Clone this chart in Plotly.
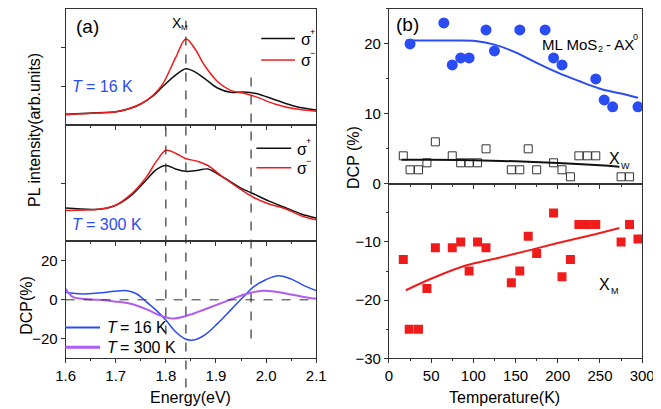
import plotly.graph_objects as go

W, H = 661, 409

# ---------------- Panel (a) data ----------------
# T = 16 K PL spectra
e16 = [1.60, 1.665, 1.698, 1.723, 1.749, 1.775, 1.794, 1.82, 1.84, 1.858, 1.877, 1.903, 1.929, 1.954, 1.98, 2.019, 2.057, 2.10]
pl16_sp = [0.27, 0.31, 0.33, 0.40, 0.53, 0.75, 0.99, 1.29, 1.45, 1.37, 1.20, 0.95, 0.84, 0.85, 0.81, 0.64, 0.48, 0.38]
pl16_sm = [0.26, 0.30, 0.33, 0.40, 0.53, 0.77, 1.06, 1.75, 2.22, 1.97, 1.54, 1.12, 0.89, 0.82, 0.72, 0.53, 0.41, 0.35]

# T = 300 K PL spectra
e300 = [1.60, 1.6655, 1.6976, 1.7297, 1.7618, 1.781, 1.8003, 1.8195, 1.8388, 1.8645, 1.8837, 1.9158, 1.9479, 1.9736, 2.0057, 2.0378, 2.070, 2.10]
pl300_sp = [0.57, 0.55, 0.61, 0.78, 1.06, 1.23, 1.30, 1.24, 1.20, 1.22, 1.24, 1.09, 0.92, 0.82, 0.69, 0.58, 0.47, 0.40]
pl300_sm = [0.53, 0.55, 0.61, 0.80, 1.11, 1.37, 1.56, 1.51, 1.42, 1.37, 1.30, 1.09, 0.90, 0.76, 0.64, 0.56, 0.44, 0.37]

# DCP spectra
e_dcp16 = [1.6, 1.6334, 1.6655, 1.6976, 1.7232, 1.7425, 1.7618, 1.781, 1.8003, 1.8195, 1.8388, 1.8548, 1.8773, 1.903, 1.9286, 1.9543, 1.9736, 1.9993, 2.025, 2.0507, 2.076, 2.10]
dcp16 = [3.9, 3.0, 3.5, 4.4, 4.7, 3.0, -1.2, -5.4, -10.5, -16.4, -20.1, -20.6, -18.1, -12.2, -5.4, 1.4, 6.4, 10.3, 12.3, 10.6, 7.3, 4.7]
e_dcp300 = [1.6, 1.614, 1.6334, 1.6655, 1.6976, 1.7297, 1.7618, 1.7874, 1.8131, 1.8388, 1.8645, 1.8901, 1.9158, 1.9415, 1.9672, 1.9929, 2.0186, 2.0443, 2.070, 2.10]
dcp300 = [5.6, 1.5, 0.5, 0.0, -0.8, -2.0, -4.9, -7.9, -9.6, -8.4, -6.2, -3.7, -1.2, 1.4, 3.5, 4.7, 4.2, 3.0, 1.7, 0.5]

# reference energies (dashed lines)
e_marks = [1.80, 1.84, 1.97]

# ---------------- Panel (b) data ----------------
t_ax = [25, 65, 75, 85, 95, 115, 125, 155, 185, 195, 205, 245, 255, 265, 295]
dcp_ax = [20, 23, 17, 18, 18, 22, 19, 22, 22, 18, 17, 15, 12, 11, 11]
t_ax_fit = [20, 50, 75, 100, 125, 150, 175, 200, 225, 250, 275, 295]
dcp_ax_fit = [20.5, 20.5, 20.5, 20.45, 19.9, 18.8, 17.3, 15.9, 14.7, 13.6, 12.9, 12.3]

t_xw = [17, 25, 35, 45, 55, 75, 85, 95, 105, 115, 145, 155, 165, 175, 195, 205, 215, 225, 235, 245, 275, 285]
dcp_xw = [4, 2, 2, 3, 6, 4, 3, 3, 3, 5, 2, 2, 5, 2, 3, 2, 1, 4, 4, 4, 1, 1]
t_xw_fit = [15, 50, 100, 150, 200, 250, 273]
dcp_xw_fit = [3.45, 3.45, 3.38, 3.22, 2.98, 2.65, 2.45]

t_xm = [17, 24, 35, 45, 55, 75, 85, 95, 105, 115, 145, 155, 165, 175, 195, 205, 215, 225, 235, 245, 275, 285, 295]
dcp_xm = [-13, -25, -25, -18, -11, -11, -10, -15, -10, -11, -17, -15, -9, -12, -5, -16, -13, -7, -7, -7, -10, -7, -9.5]
t_xm_fit = [20, 52, 90, 128, 167, 205, 243, 273]
dcp_xm_fit = [-18.3, -16.2, -14.1, -12.8, -11.4, -10.0, -8.7, -7.6]

BLUE = "#2a4cf5"
RED = "#f01c1c"
PURPLE = "#b05cf2"
BLACK = "#111111"
FONT = "Liberation Sans, Arial, sans-serif"

fig = go.Figure()

def line(x, y, color, xa, ya, width=1.5):
    fig.add_trace(go.Scatter(x=x, y=y, mode="lines", xaxis=xa, yaxis=ya,
                             line=dict(color=color, width=width, shape="spline", smoothing=1.0),
                             showlegend=False, hoverinfo="skip"))

line(e16, pl16_sp, BLACK, "x", "y")
line(e16, pl16_sm, RED, "x", "y")
line(e300, pl300_sp, BLACK, "x2", "y2")
line(e300, pl300_sm, RED, "x2", "y2")
line(e_dcp16, dcp16, BLUE, "x3", "y3")
line(e_dcp300, dcp300, PURPLE, "x3", "y3", width=2)

# panel (b)
fig.add_trace(go.Scatter(x=t_ax, y=dcp_ax, mode="markers", xaxis="x4", yaxis="y4",
                         marker=dict(symbol="circle", size=11, color=BLUE), showlegend=False))
line(t_ax_fit, dcp_ax_fit, BLUE, "x4", "y4", width=2)
fig.add_trace(go.Scatter(x=t_xw, y=dcp_xw, mode="markers", xaxis="x4", yaxis="y4",
                         marker=dict(symbol="square-open", size=8, color="#333333", line=dict(width=1)),
                         showlegend=False))
line(t_xw_fit, dcp_xw_fit, BLACK, "x4", "y4", width=2)
fig.add_trace(go.Scatter(x=t_xm, y=dcp_xm, mode="markers", xaxis="x5", yaxis="y5",
                         marker=dict(symbol="square", size=9, color=RED), showlegend=False))
line(t_xm_fit, dcp_xm_fit, RED, "x5", "y5", width=2)

def px(x):
    return x / W

def py(y):
    return 1 - y / H

axis_common = dict(showline=True, linecolor="#333333", linewidth=1, mirror=True,
                   ticks="outside", ticklen=4, tickcolor="#333333", showgrid=False,
                   zeroline=False, tickfont=dict(family=FONT, size=15, color="black"))
minor_a = dict(ticks="outside", dtick=0.05, ticklen=2, tickcolor="#333333")

xa_dom = [px(49.3), px(309)]
xb_dom = [px(384.3), px(646.7)]
energy_ticks = [1.6, 1.7, 1.8, 1.9, 2.0, 2.1]
temp_ticks = [0, 50, 100, 150, 200, 250, 300]

fig.update_layout(
    width=W, height=H, margin=dict(l=0, r=0, t=0, b=0),
    paper_bgcolor="white", plot_bgcolor="white",
    font=dict(family=FONT, color="black"),
    xaxis=dict(axis_common, domain=xa_dom, anchor="y", range=[1.6, 2.1], tickvals=energy_ticks,
               showticklabels=False, minor=minor_a),
    xaxis2=dict(axis_common, domain=xa_dom, anchor="y2", range=[1.6, 2.1], tickvals=energy_ticks,
                showticklabels=False, minor=minor_a),
    xaxis3=dict(axis_common, domain=xa_dom, anchor="y3", range=[1.6, 2.1], tickvals=energy_ticks,
                tickformat=".1f", minor=minor_a),
    yaxis=dict(axis_common, domain=[py(119), py(1)], anchor="x", range=[0, 3], tickvals=[1, 2],
               showticklabels=False),
    yaxis2=dict(axis_common, domain=[py(238), py(119)], anchor="x2", range=[0, 2], tickvals=[1],
                showticklabels=False),
    yaxis3=dict(axis_common, domain=[py(357.3), py(238)], anchor="x3", range=[-30, 30],
                tickvals=[-20, 0, 20]),
    xaxis4=dict(axis_common, domain=xb_dom, anchor="y4", range=[0, 300], tickvals=temp_ticks,
                showticklabels=False, minor=dict(ticks="outside", dtick=25, ticklen=2, tickcolor="#333333")),
    xaxis5=dict(axis_common, domain=xb_dom, anchor="y5", range=[0, 300], tickvals=temp_ticks,
                minor=dict(ticks="outside", dtick=25, ticklen=2, tickcolor="#333333")),
    yaxis4=dict(axis_common, domain=[py(179.3), py(1)], anchor="x4", range=[0, 25], tickvals=[0, 10, 20],
                minor=dict(ticks="outside", dtick=5, ticklen=2, tickcolor="#333333")),
    yaxis5=dict(axis_common, domain=[py(357.3), py(179.3)], anchor="x5", range=[-30, 0], tickvals=[-30, -20, -10],
                minor=dict(ticks="outside", dtick=5, ticklen=2, tickcolor="#333333")),
)

shapes = []
# vertical dashed reference lines (energy given in data coords, span in paper)
spans = {1.80: (121, 333), 1.84: (13, 387), 1.97: (67, 337)}
for e in e_marks:
    y0, y1 = spans[e]
    shapes.append(dict(type="line", xref="x", yref="paper", x0=e, x1=e, y0=py(y1), y1=py(y0),
                       line=dict(color="#333333", width=1.2, dash="dash")))
# horizontal zero line in DCP panel
shapes.append(dict(type="line", xref="x3 domain", yref="y3", x0=0, x1=1, y0=0, y1=0,
                   line=dict(color="#333333", width=1, dash="dash")))

# legend line segments
def seg(x0, x1, y, color, width=1.5):
    shapes.append(dict(type="line", xref="paper", yref="paper", x0=px(x0), x1=px(x1), y0=py(y), y1=py(y),
                       line=dict(color=color, width=width)))

seg(252, 287, 31, BLACK)
seg(252, 287, 53, RED)
seg(247, 283, 143, BLACK)
seg(247, 283, 163, RED)
seg(49, 85, 326, BLUE, 2)
seg(49, 85, 346, PURPLE, 3)
fig.update_layout(shapes=shapes)

ann = []
def text(x, y, s, size=16, color="black", xanchor="center", angle=0, style="normal"):
    ann.append(dict(x=px(x), y=py(y), xref="paper", yref="paper", text=s, showarrow=False,
                    xanchor=xanchor, yanchor="middle", textangle=angle,
                    font=dict(family=FONT, size=size, color=color, style=style)))

def temp_label(x, y, rest, color):
    text(x, y, "T", 16, color, xanchor="left", style="italic")
    text(x + 14, y, rest, 16, color, xanchor="left")

text(58, 19, "(a)", 19, xanchor="left")
# X_M above the dashed line
text(157, 15, "X", 14, xanchor="left")
text(167, 20, "M", 8, xanchor="left")
# sigma legends
text(291, 32, "σ", 16, xanchor="left")
text(300.5, 24, "+", 9, xanchor="left")
text(291, 54, "σ", 16, xanchor="left")
text(300.5, 46, "−", 9, xanchor="left")
text(287, 144, "σ", 16, xanchor="left")
text(296.5, 136, "+", 9, xanchor="left")
text(287, 164, "σ", 16, xanchor="left")
text(296.5, 156, "−", 9, xanchor="left")
temp_label(54, 80, "= 16 K", BLUE)
temp_label(54, 221, "= 300 K", BLUE)
temp_label(90, 326, "= 16 K", "black")
temp_label(90, 346, "= 300 K", "black")
text(179, 397, "Energy(eV)", 16)
text(17, 124, "PL intensity(arb.units)", 16, angle=-90)
text(8, 303, "DCP(%)", 16, angle=-90)

text(390, 17, "(b)", 19, xanchor="left")
text(541, 37, "ML MoS", 15, xanchor="left")
text(598.5, 42, "2", 9, xanchor="left")
text(607, 37, "- AX", 15, xanchor="left")
text(635, 30, "0", 9, xanchor="left")
text(610, 154, "X", 16, xanchor="left")
text(622.5, 161, "W", 9, xanchor="left")
text(600, 282, "X", 16, xanchor="left")
text(612, 289, "M", 9, xanchor="left")
text(504, 397, "Temperature(K)", 16)
text(347, 152, "DCP (%)", 16, angle=-90)
fig.update_layout(annotations=ann)

fig.write_html("out.html")
